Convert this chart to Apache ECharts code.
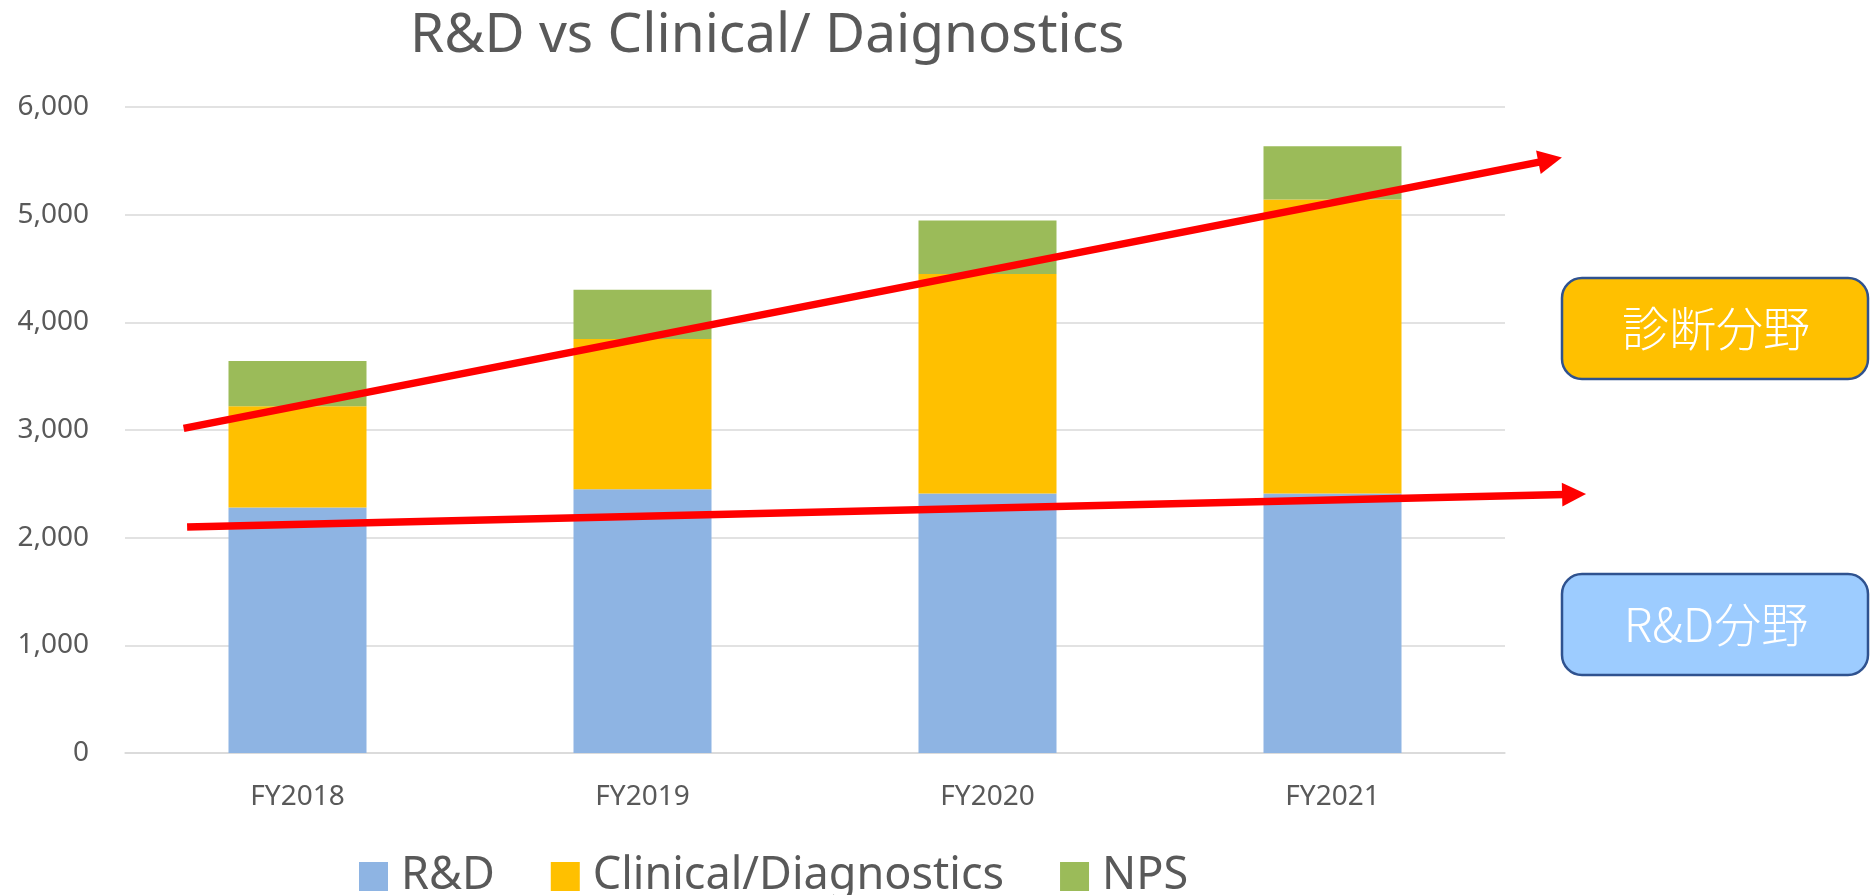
<!DOCTYPE html>
<html>
<head>
<meta charset="utf-8">
<title>R&amp;D vs Clinical/ Daignostics</title>
<script src="https://cdn.jsdelivr.net/npm/echarts/dist/echarts.min.js"></script>
<style>
  html, body { margin: 0; padding: 0; background: #fff; }
  #chart { width: 1870px; height: 895px; }
</style>
</head>
<body>
<div id="chart"></div>
<script>
// data
const categories = ['FY2018', 'FY2019', 'FY2020', 'FY2021']
const rdValues = [2280, 2450, 2410, 2410]
const clinicalValues = [940, 1395, 2040, 2730]
const npsValues = [420, 457, 495, 495]

// trend arrows: [category index, value] start -> tip
const diagTrend = [[-0.33, 3015], [3.665, 5530]]
const rdTrend = [[-0.32, 2100], [3.735, 2405]]

const textColor = '#595959'
const font = '"Noto Sans", sans-serif'

const chart = echarts.init(document.getElementById('chart'))

chart.setOption({
  backgroundColor: '#fff',
  animation: false,
  title: {
    text: 'R&D vs Clinical/ Daignostics',
    left: 405,
    top: 4,
    textStyle: { color: textColor, fontSize: 55, fontWeight: 'normal', fontFamily: font },
  },
  legend: {
    left: 354,
    top: 849,
    itemWidth: 29,
    itemHeight: 29,
    itemGap: 56,
    icon: 'rect',
    textStyle: { color: textColor, fontSize: 45, fontFamily: font, padding: [0, 0, 0, 8] },
    data: ['R&D', 'Clinical/Diagnostics', 'NPS'],
  },
  grid: { left: 125, right: 365, top: 107, bottom: 142 },
  xAxis: {
    type: 'category',
    data: categories,
    axisLine: { lineStyle: { color: '#D9D9D9', width: 1.5 } },
    axisTick: { show: false },
    axisLabel: { color: textColor, fontSize: 28, fontFamily: font, margin: 30 },
  },
  yAxis: {
    type: 'value',
    min: 0,
    max: 6000,
    interval: 1000,
    axisLine: { show: false },
    axisTick: { show: false },
    splitLine: { lineStyle: { color: '#D9D9D9', width: 1.5 } },
    axisLabel: {
      color: textColor, fontSize: 28, fontFamily: font, margin: 36,
      formatter: v => v.toLocaleString('en-US'),
    },
  },
  series: [
    { name: 'R&D', type: 'bar', stack: 'total', barWidth: '40%', data: rdValues, itemStyle: { color: '#8EB4E3' } },
    { name: 'Clinical/Diagnostics', type: 'bar', stack: 'total', data: clinicalValues, itemStyle: { color: '#FFC000' } },
    { name: 'NPS', type: 'bar', stack: 'total', data: npsValues, itemStyle: { color: '#9BBB59' } },
  ],
})

// map [category index, value] to pixels through the chart's own axes
const x0 = chart.convertToPixel({ xAxisIndex: 0 }, categories[0])
const x1 = chart.convertToPixel({ xAxisIndex: 0 }, categories[1])
const toPx = p => [x0 + p[0] * (x1 - x0), chart.convertToPixel({ yAxisIndex: 0 }, p[1])]

const arrow = (trend) => {
  const a = toPx(trend[0])
  const b = toPx(trend[1])
  const dx = b[0] - a[0], dy = b[1] - a[1]
  const len = Math.hypot(dx, dy)
  const ux = dx / len, uy = dy / len
  const head = 24, half = 12
  const bx = b[0] - ux * head, by = b[1] - uy * head
  const nx = -uy, ny = ux
  return [
    {
      type: 'line', z: 100,
      shape: { x1: a[0], y1: a[1], x2: bx + ux * 2, y2: by + uy * 2 },
      style: { stroke: '#FF0000', lineWidth: 7.5 },
    },
    {
      type: 'polygon', z: 100,
      shape: { points: [b, [bx + nx * half, by + ny * half], [bx - nx * half, by - ny * half]] },
      style: { fill: '#FF0000' },
    },
  ]
}

const labelBox = (top, fill, text) => ({
  type: 'group', z: 100,
  children: [
    {
      type: 'rect',
      shape: { x: 1562, y: top, width: 306, height: 101, r: 20 },
      style: { fill: fill, stroke: '#2F528F', lineWidth: 2.5 },
    },
    {
      type: 'text',
      style: {
        x: 1716, y: top + 50, text: text, fill: '#fff',
        font: '300 47px "Noto Sans CJK JP", sans-serif',
        textAlign: 'center', textVerticalAlign: 'middle',
      },
    },
  ],
})

chart.setOption({
  graphic: [
    ...arrow(diagTrend),
    ...arrow(rdTrend),
    labelBox(278, '#FFC000', '診断分野'),
    labelBox(574, '#9DCCFF', 'R&D分野'),
  ],
})
</script>
</body>
</html>
